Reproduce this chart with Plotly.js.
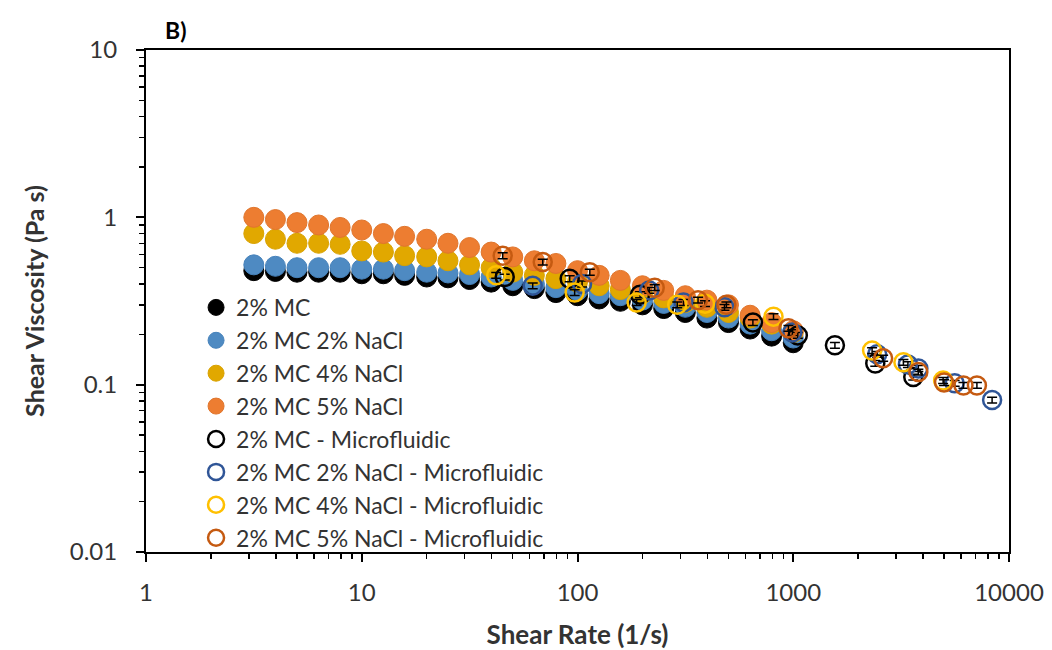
<!DOCTYPE html>
<html>
<head>
<meta charset="utf-8">
<script src="https://cdn.plot.ly/plotly-3.0.1.min.js"></script>
<style>html,body{margin:0;padding:0;background:#fff;}#chart{width:1052px;height:650px;}</style>
</head>
<body>
<div id="chart"></div>
<script>
// Shear rate (1/s) for bulk rheometer series
const shearRate = [3.16, 3.98, 5.01, 6.31, 7.94, 10, 12.6, 15.8, 20, 25.1, 31.6, 39.8, 50.1, 63.1, 79.4, 100, 126, 158, 200, 251, 316, 398, 501, 631, 794, 1000];
// Shear viscosity (Pa s)
const mc2 = [0.48, 0.475, 0.47, 0.47, 0.47, 0.46, 0.46, 0.45, 0.44, 0.435, 0.425, 0.41, 0.39, 0.375, 0.355, 0.34, 0.325, 0.315, 0.30, 0.285, 0.27, 0.25, 0.235, 0.215, 0.195, 0.178];
const mc2Nacl2 = [0.52, 0.51, 0.50, 0.50, 0.50, 0.49, 0.49, 0.48, 0.47, 0.465, 0.455, 0.44, 0.42, 0.40, 0.38, 0.365, 0.35, 0.34, 0.32, 0.306, 0.29, 0.27, 0.25, 0.23, 0.21, 0.19];
const mc2Nacl4 = [0.80, 0.74, 0.70, 0.70, 0.69, 0.63, 0.62, 0.59, 0.58, 0.55, 0.52, 0.50, 0.47, 0.45, 0.43, 0.41, 0.39, 0.37, 0.35, 0.33, 0.31, 0.29, 0.27, 0.25, 0.23, 0.205];
const mc2Nacl5 = [1.0, 0.97, 0.93, 0.90, 0.87, 0.84, 0.80, 0.77, 0.74, 0.70, 0.66, 0.62, 0.58, 0.55, 0.53, 0.48, 0.45, 0.42, 0.39, 0.366, 0.34, 0.32, 0.30, 0.26, 0.235, 0.21];

// Microfluidic series
const mfMcX = [46, 92, 195, 650, 1050, 1560, 2400, 3600];
const mfMcY = [0.44, 0.43, 0.345, 0.235, 0.197, 0.172, 0.134, 0.111];
const mfNacl2X = [62, 105, 215, 310, 480, 990, 2450, 3400, 3800, 5600, 8350];
const mfNacl2Y = [0.39, 0.40, 0.366, 0.31, 0.29, 0.205, 0.152, 0.132, 0.125, 0.102, 0.081];
const mfNacl4X = [42, 97, 188, 290, 390, 810, 2320, 3240, 4950];
const mfNacl4Y = [0.45, 0.355, 0.31, 0.30, 0.305, 0.255, 0.16, 0.136, 0.106];
const mfNacl5X = [45, 69, 114, 228, 362, 490, 950, 2610, 3800, 5000, 6150, 7100];
const mfNacl5Y = [0.59, 0.54, 0.47, 0.38, 0.32, 0.30, 0.217, 0.144, 0.119, 0.103, 0.099, 0.099];

const names = ['2% MC', '2% MC 2% NaCl', '2% MC 4% NaCl', '2% MC 5% NaCl',
  '2% MC - Microfluidic', '2% MC 2% NaCl - Microfluidic', '2% MC 4% NaCl - Microfluidic', '2% MC 5% NaCl - Microfluidic'];

function filled(name, y, color, line) {
  return {x: shearRate, y: y, name: name, type: 'scatter', mode: 'markers',
    marker: {symbol: 'circle', size: 20, color: color, line: {color: line, width: 1}}};
}
function open(name, x, y, color) {
  return {x: x, y: y, name: name, type: 'scatter', mode: 'markers',
    marker: {symbol: 'circle-open', size: 18, color: color, line: {color: color, width: 2.5}},
    error_y: {type: 'percent', value: 4, color: '#000', thickness: 1.5, width: 5}};
}

const data = [
  filled(names[0], mc2, '#000000', '#000000'),
  filled(names[1], mc2Nacl2, '#4E8AC2', '#4682bb'),
  filled(names[2], mc2Nacl4, '#E1A800', '#d9a200'),
  filled(names[3], mc2Nacl5, '#ED7D31', '#e0752c'),
  open(names[4], mfMcX, mfMcY, '#000000'),
  open(names[5], mfNacl2X, mfNacl2Y, '#2F5597'),
  open(names[6], mfNacl4X, mfNacl4Y, '#FFC000'),
  open(names[7], mfNacl5X, mfNacl5Y, '#C55A11')
];

const font = 'Lato, "Open Sans", sans-serif';
const tc = '#333333';
const layout = {
  width: 1052, height: 650,
  margin: {l: 146, r: 43, t: 50, b: 98},
  paper_bgcolor: '#fff', plot_bgcolor: '#fff',
  font: {family: font, color: tc, size: 22},
  showlegend: true,
  legend: {x: 0.058, y: 0.53, xanchor: 'left', yanchor: 'top', bgcolor: 'rgba(0,0,0,0)',
    font: {family: font, size: 23, color: tc}, tracegroupgap: 0, itemwidth: 30},
  xaxis: {type: 'log', range: [0, 4], dtick: 1, tickformat: 'd',
    showline: true, mirror: true, linecolor: '#000', linewidth: 2,
    ticks: 'outside', ticklen: 8, tickwidth: 2, tickcolor: '#000', ticklabelstandoff: 10,
    minor: {ticks: 'outside', ticklen: 5, tickwidth: 1.5, tickcolor: '#000', dtick: 'D1'},
    showgrid: false, zeroline: false,
    tickfont: {family: font, size: 24, color: tc},
    title: {text: '<b>Shear Rate (1/s)</b>', font: {family: font, size: 26, color: tc}, standoff: 22}},
  yaxis: {type: 'log', range: [-2, 1], dtick: 1, exponentformat: 'none',
    showline: true, mirror: true, linecolor: '#000', linewidth: 2,
    ticks: 'outside', ticklen: 8, tickwidth: 2, tickcolor: '#000', ticklabelstandoff: 14,
    minor: {ticks: 'outside', ticklen: 5, tickwidth: 1.5, tickcolor: '#000', dtick: 'D1'},
    showgrid: false, zeroline: false,
    tickfont: {family: font, size: 24, color: tc},
    title: {text: '<b>Shear Viscosity (Pa s)</b>', font: {family: font, size: 25, color: tc}, standoff: 18}},
  annotations: [{text: '<b>B)</b>', xref: 'paper', yref: 'paper', x: 0.02, y: 1.0, xanchor: 'left', yanchor: 'bottom',
    yshift: 4, showarrow: false, font: {family: font, size: 23, color: '#000'}}]
};

Plotly.newPlot('chart', data, layout, {displayModeBar: false, staticPlot: true});
</script>
</body>
</html>
